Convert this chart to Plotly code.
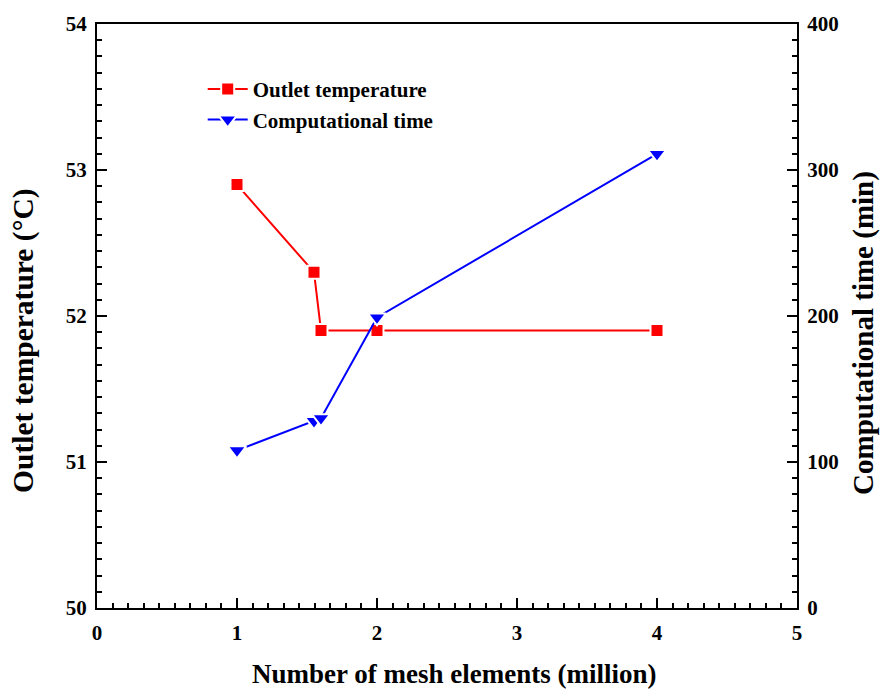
import plotly.graph_objects as go

mesh_million = [1, 1.55, 1.6, 2, 4]
outlet_temp = [52.9, 52.3, 51.9, 51.9, 51.9]
comp_time = [108, 128, 130, 199, 311]

x_ticks = [0, 1, 2, 3, 4, 5]
y1_ticks = [50, 51, 52, 53, 54]
y2_ticks = [0, 100, 200, 300, 400]

x_title = "Number of mesh elements (million)"
y1_title = "Outlet temperature (°C)"
y2_title = "Computational time (min)"

FONT = "Liberation Serif"

fig = go.Figure()
fig.add_trace(go.Scatter(
    x=mesh_million, y=outlet_temp, name="<b>Outlet temperature</b>",
    mode="lines+markers",
    line=dict(color="#ff0000", width=2),
    marker=dict(symbol="square", size=13, color="#ff0000", line=dict(color="white", width=2)),
    yaxis="y",
))
fig.add_trace(go.Scatter(
    x=mesh_million, y=comp_time, name="<b>Computational time</b>",
    mode="lines+markers",
    line=dict(color="#0000ff", width=2),
    marker=dict(symbol="triangle-down", size=16, color="#0000ff", line=dict(color="white", width=2)),
    yaxis="y2",
))

axis_common = dict(
    showgrid=False, zeroline=False, showline=True, linecolor="black", linewidth=2,
    ticks="inside", ticklen=10, tickwidth=2, tickcolor="black",
    tickfont=dict(family=FONT, size=21, color="black", weight="bold"),
)


def bold(vals):
    return ["<b>%s</b>" % v for v in vals]


fig.update_layout(
    width=882, height=692,
    margin=dict(l=97, r=85, t=20, b=84),
    paper_bgcolor="white", plot_bgcolor="white",
    font=dict(family=FONT, color="black"),
    showlegend=True,
    legend=dict(
        x=0.151, y=0.923, xanchor="left", yanchor="top",
        bgcolor="rgba(0,0,0,0)", borderwidth=0,
        font=dict(family=FONT, size=21, color="black", weight="bold"),
        tracegroupgap=0, itemwidth=40,
    ),
    xaxis=dict(
        **axis_common, range=[0, 5], tickvals=x_ticks, ticktext=bold(x_ticks),
        mirror=True, ticklabelstandoff=5,
        minor=dict(dtick=1/9, tick0=0, ticks="inside", ticklen=5, tickwidth=2, tickcolor="black"),
    ),
    yaxis=dict(
        **axis_common, range=[50, 54], tickvals=y1_ticks, ticktext=bold(y1_ticks),
        ticklabelstandoff=4,
        minor=dict(dtick=1/9, tick0=50, ticks="inside", ticklen=5, tickwidth=2, tickcolor="black"),
    ),
    yaxis2=dict(
        **axis_common, range=[0, 400], tickvals=y2_ticks, ticktext=bold(y2_ticks),
        overlaying="y", side="right", ticklabelstandoff=4,
        minor=dict(dtick=100/9, tick0=0, ticks="inside", ticklen=5, tickwidth=2, tickcolor="black"),
    ),
    annotations=[
        dict(text="<b>%s</b>" % x_title, xref="paper", yref="paper", x=0.51, y=-0.113,
             xanchor="center", yanchor="middle", showarrow=False,
             font=dict(family=FONT, size=27, color="black")),
        dict(text="<b>%s</b>" % y1_title, xref="paper", yref="paper", x=-0.1043, y=0.459,
             xanchor="center", yanchor="middle", showarrow=False, textangle=-90,
             font=dict(family=FONT, size=29.5, color="black")),
        dict(text="<b>%s</b>" % y2_title, xref="paper", yref="paper", x=1.0957, y=0.471,
             xanchor="center", yanchor="middle", showarrow=False, textangle=-90,
             font=dict(family=FONT, size=29, color="black")),
    ],
)

fig.write_html("out.html")
